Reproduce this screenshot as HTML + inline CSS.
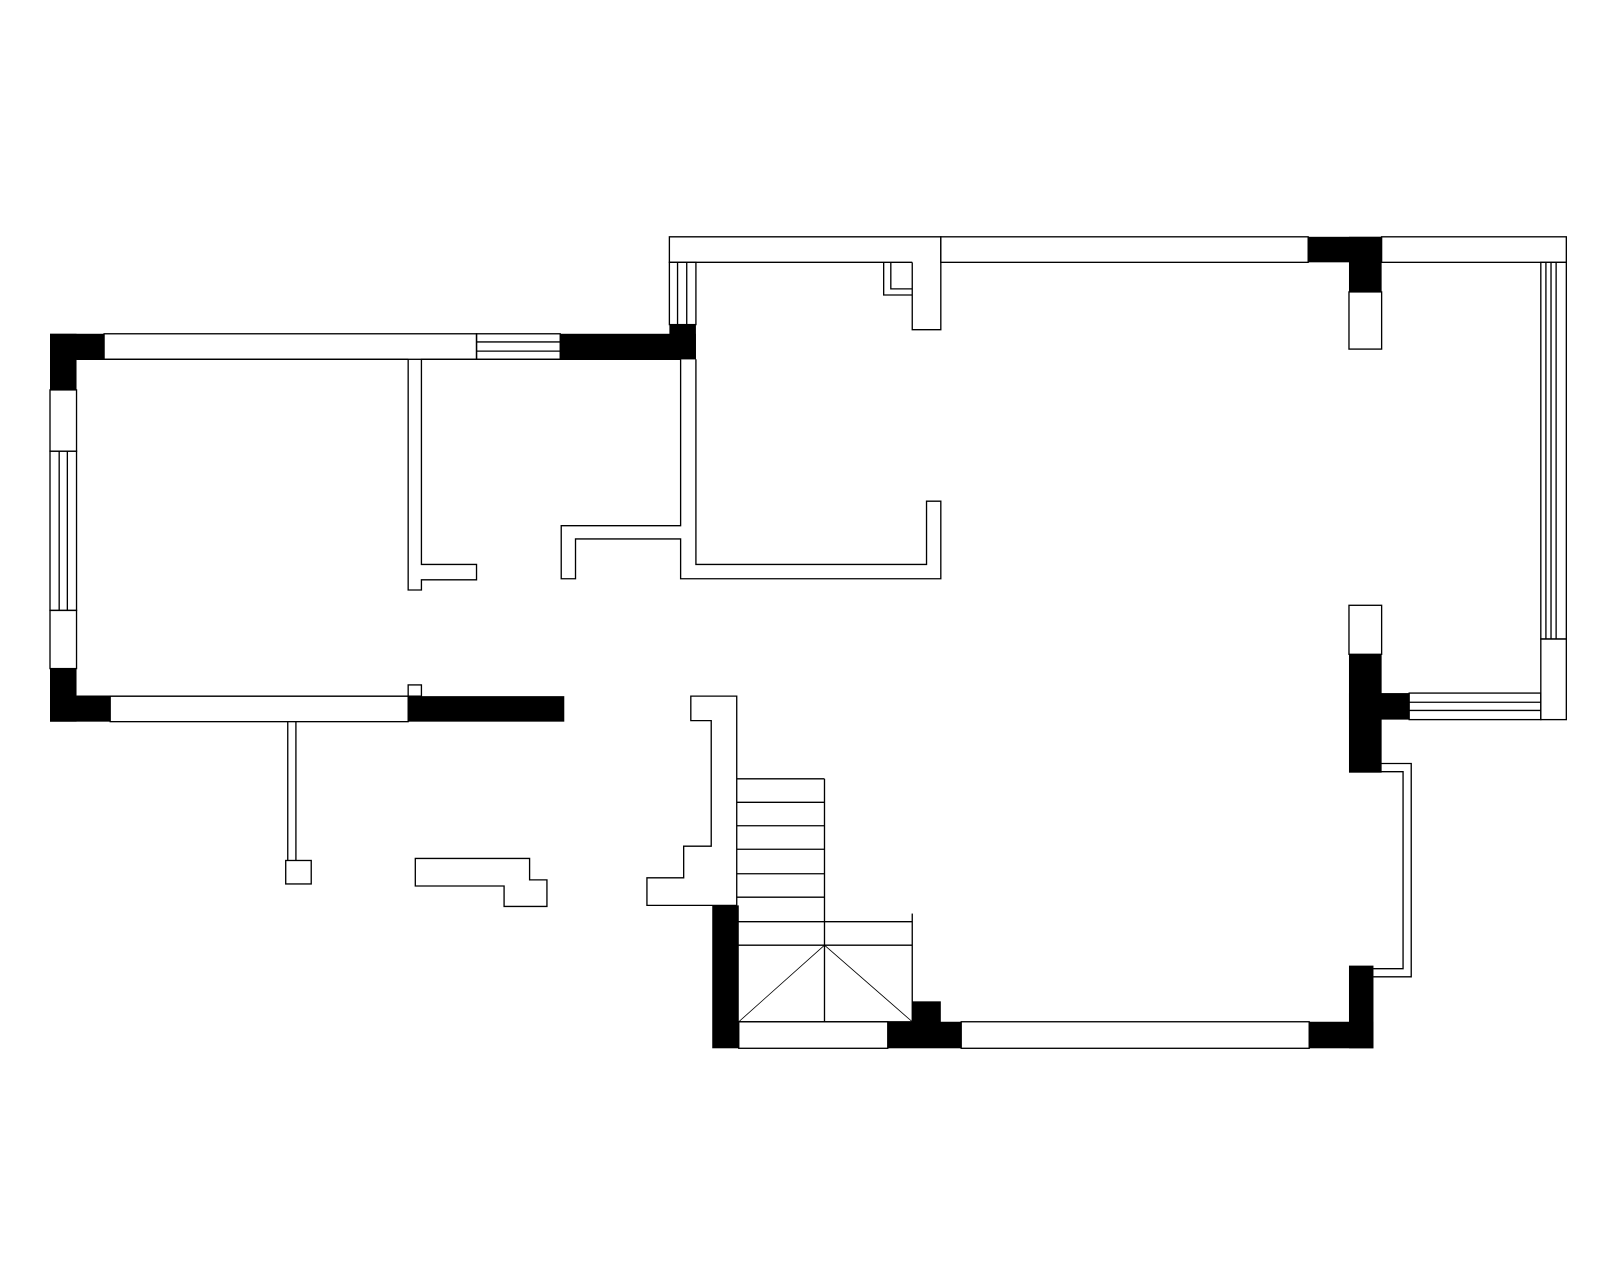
<!DOCTYPE html>
<html><head><meta charset="utf-8"><style>html,body{margin:0;padding:0;background:#fff}svg{display:block}</style></head>
<body>
<svg width="1600" height="1280" viewBox="0 0 1568 1254" preserveAspectRatio="none" xmlns="http://www.w3.org/2000/svg">
<g fill="none" stroke="#000" stroke-width="1.3">
<rect x="102" y="327" width="365" height="25"/>
<rect x="467" y="327" width="82" height="25"/>
<line x1="467" y1="335" x2="549" y2="335"/><line x1="467" y1="344" x2="549" y2="344"/>
<rect x="49" y="382" width="26" height="60"/>
<rect x="49" y="442" width="26" height="156"/>
<line x1="58" y1="442" x2="58" y2="598"/><line x1="66" y1="442" x2="66" y2="598"/>
<rect x="49" y="598" width="26" height="57"/>
<rect x="108" y="682" width="292" height="25"/>
<rect x="400" y="671" width="13" height="11"/>
<line x1="75" y1="352" x2="400" y2="352"/>
<polyline points="400,352 400,578 413,578 413,568 467,568 467,553 413,553 413,352 667,352"/>
<line x1="75" y1="682" x2="400" y2="682"/>
<line x1="282" y1="707" x2="282" y2="843"/><line x1="290" y1="707" x2="290" y2="843"/>
<rect x="280" y="843" width="25" height="23"/>
<polygon points="407,841 519,841 519,862 536,862 536,888 494,888 494,868 407,868"/>
<polyline points="667,352 667,515 550,515 550,567 564,567 564,528 667,528 667,567 922,567 922,491 908,491 908,553 682,553 682,352"/>
<polyline points="894,257 656,257 656,232 922,232 922,323 894,323 894,257"/>
<rect x="922" y="232" width="360" height="25"/>
<rect x="1354" y="232" width="181" height="25"/>
<rect x="656" y="257" width="26" height="61"/>
<line x1="664" y1="257" x2="664" y2="318"/><line x1="673" y1="257" x2="673" y2="318"/>
<polyline points="894,289 866,289 866,257"/>
<polyline points="894,283 873,283 873,257"/>
<rect x="1322" y="286" width="32" height="56"/>
<rect x="1510" y="257" width="25" height="369"/>
<line x1="1515" y1="257" x2="1515" y2="626"/><line x1="1520" y1="257" x2="1520" y2="626"/><line x1="1525" y1="257" x2="1525" y2="626"/>
<rect x="1510" y="626" width="25" height="79"/>
<rect x="1322" y="593" width="32" height="48"/>
<rect x="1381" y="679" width="129" height="26"/>
<line x1="1381" y1="688" x2="1510" y2="688"/><line x1="1381" y1="696" x2="1510" y2="696"/>
<polyline points="1346,748 1383,748 1383,957 1346,957"/>
<polyline points="1346,756 1375,756 1375,949 1346,949"/>
<rect x="724" y="1001" width="146" height="26"/>
<rect x="942" y="1001" width="341" height="26"/>
<polygon points="677,682 722,682 722,887 634,887 634,860 670,860 670,829 697,829 697,706 677,706"/>
<line x1="722" y1="763" x2="808" y2="763"/>
<line x1="722" y1="786" x2="808" y2="786"/>
<line x1="722" y1="809" x2="808" y2="809"/>
<line x1="722" y1="832" x2="808" y2="832"/>
<line x1="722" y1="856" x2="808" y2="856"/>
<line x1="722" y1="879" x2="808" y2="879"/>
<line x1="722" y1="903" x2="894" y2="903"/>
<line x1="722" y1="926" x2="894" y2="926"/>
<line x1="808" y1="763" x2="808" y2="1001"/>
<line x1="894" y1="895" x2="894" y2="1001"/>
<line x1="724" y1="1001" x2="894" y2="1001" />
<polyline points="724,1001 808,926 894,1001" stroke-width="0.8"/>
</g>
<g fill="#000">
<rect x="49" y="327" width="53" height="25"/>
<rect x="49" y="327" width="26" height="55"/>
<rect x="549" y="327" width="133" height="25"/>
<rect x="656" y="318" width="26" height="34"/>
<rect x="49" y="655" width="26" height="52"/>
<rect x="49" y="682" width="59" height="25"/>
<rect x="400" y="682" width="153" height="25"/>
<rect x="1282" y="232" width="72" height="25"/>
<rect x="1322" y="232" width="32" height="54"/>
<rect x="1322" y="641" width="32" height="116"/>
<rect x="1322" y="679" width="59" height="26"/>
<rect x="1322" y="946" width="24" height="81"/>
<rect x="1283" y="1001" width="63" height="26"/>
<rect x="698" y="887" width="26" height="140"/>
<rect x="870" y="1001" width="72" height="26"/>
<rect x="894" y="981" width="28" height="21"/>
</g>
</svg>
</body></html>
